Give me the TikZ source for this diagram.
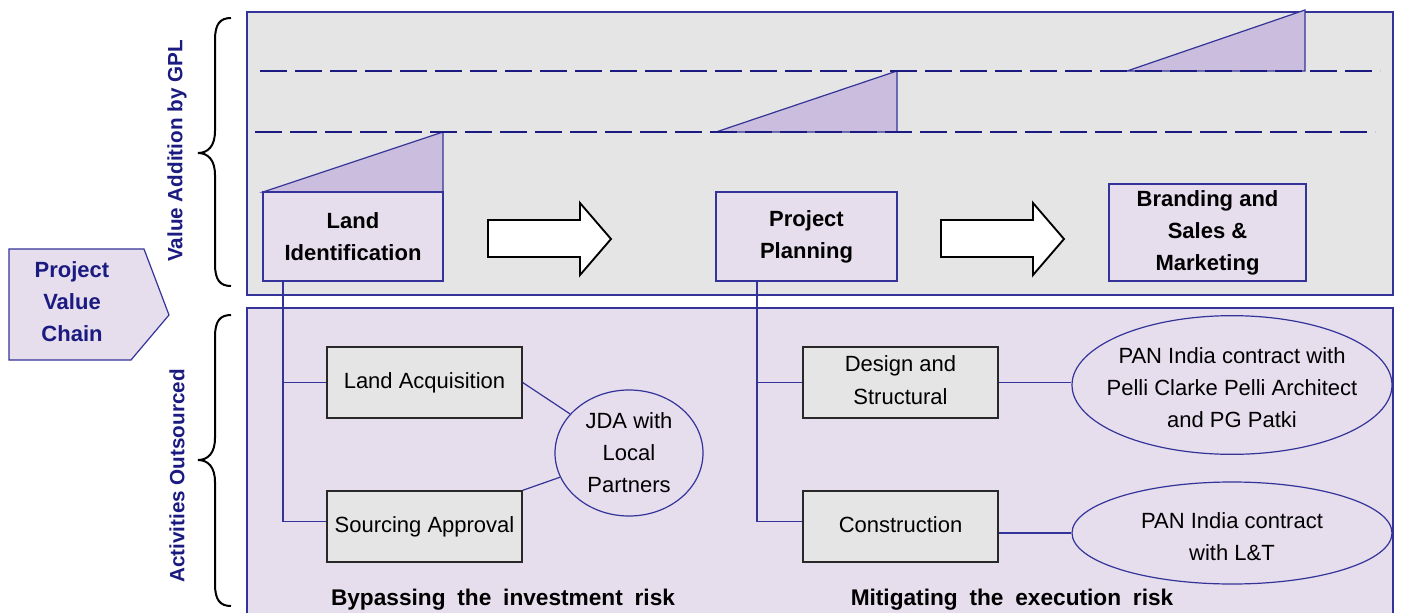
\documentclass[tikz,border=0pt]{standalone}
\usepackage{fontspec}
\setmainfont{Liberation Sans}
\usetikzlibrary{shapes.geometric}
\definecolor{panelgrey}{RGB}{229,229,229}
\definecolor{lav}{RGB}{230,221,237}
\definecolor{wedge}{RGB}{203,189,221}
\definecolor{edge}{RGB}{51,51,153}
\definecolor{navy}{RGB}{26,26,128}
\definecolor{boxline}{RGB}{40,40,40}
\newcommand\capspacing{\spaceskip=0.52em plus 0pt minus 0pt\relax}

\begin{document}
\begin{tikzpicture}[x=0.75pt,y=-0.75pt,
  txt/.style={font=\fontsize{16.5}{24}\selectfont, align=center, inner sep=0pt},
  boldtxt/.style={txt, font=\fontsize{16.5}{24}\selectfont\bfseries},
  captiontxt/.style={inner sep=0pt, font=\fontsize{17}{24}\selectfont\bfseries},
  panel/.style={draw=edge, line width=1pt, inner sep=0pt},
  stagebox/.style={boldtxt, draw=edge, fill=lav, line width=1pt},
  taskbox/.style={txt, draw=boxline, fill=panelgrey, line width=1pt,
    minimum width=146.25pt, minimum height=53.25pt},
  partner/.style={ellipse, draw=edge, fill=lav, line width=0.9pt, inner sep=0pt},
  link/.style={draw=edge, line width=0.9pt},
  wedgeshape/.style={draw=edge, fill=wedge, line width=0.9pt},
  dashline/.style={draw=navy, line width=1.5pt, dash pattern=on 20.25pt off 6pt},
  blockarrow/.style={draw=black, fill=white, line width=1.4pt, line join=miter},
  bracket/.style={draw=black, line width=1.5pt},
  sidelabel/.style={font=\fontsize{15.5}{20}\selectfont\bfseries, text=navy, inner sep=0pt, rotate=90},
]
\useasboundingbox (0,0) rectangle (1401,613);

% background bands
\node[panel, fill=panelgrey, minimum width=859.5pt, minimum height=212.25pt] (valueband) at (820,153.5) {};
\node[panel, fill=lav, minimum width=859.5pt, minimum height=234pt] (outband) at (820,464) {};

% value-addition wedges
\draw[wedgeshape] (263,192) -- (443,192) -- (443,132) -- cycle;
\draw[wedgeshape] (716,132) -- (897,132) -- (897,71) -- cycle;
\draw[wedgeshape] (1127,71) -- (1305,71) -- (1305,10) -- cycle;

% value levels
\draw[dashline] (260,71) -- (1380,71);
\draw[dashline] (255,132) -- (1375,132);

% stages of the value chain
\node[stagebox, minimum width=135pt, minimum height=66.75pt] (li) at (353,236.5) {Land\\Identification};
\node[stagebox, minimum width=135.75pt, minimum height=66.75pt] (pp) at (806.5,236.5) {Project\\Planning};
\node[stagebox, minimum width=147.75pt, minimum height=72.75pt] (bsm) at (1207.5,232.5) {Branding and\\Sales \&\\Marketing};

% block arrows between stages
\draw[blockarrow] (488,220) -- (580,220) -- (580,203) -- (611,239) -- (580,275) -- (580,257) -- (488,257) -- cycle;
\draw[blockarrow] (941,220) -- (1033,220) -- (1033,203) -- (1064,239) -- (1033,275) -- (1033,257) -- (941,257) -- cycle;

% project value chain tag
\draw[draw=edge, fill=lav, line width=0.9pt] (9,249) -- (144,249) -- (169,315) -- (131,360) -- (9,360) -- cycle;
\node[boldtxt, text=navy] (pvc) at (72,302) {Project\\Value\\Chain};

% side labels with braces
\node[sidelabel] (vlab) at (177,151) {Value Addition by GPL};
\node[sidelabel] (alab) at (177,476) {Activities Outsourced};
\draw[bracket] (231,18) .. controls (220,18) and (215,24) .. (215,40) -- (215,131)
  .. controls (215,146) and (208,153) .. (198,153)
  .. controls (208,153) and (215,160) .. (215,175) -- (215,264)
  .. controls (215,280) and (220,286) .. (231,286);
\draw[bracket] (231,315) .. controls (220,315) and (215,321) .. (215,337) -- (215,438)
  .. controls (215,453) and (208,460) .. (198,460)
  .. controls (208,460) and (215,467) .. (215,482) -- (215,584)
  .. controls (215,600) and (220,606) .. (231,606);

% outsourced activities
\node[taskbox] (la) at (424.5,382.5) {Land Acquisition};
\node[taskbox] (sa) at (424.5,526.5) {\raisebox{3pt}{Sourcing Approval}};
\node[taskbox] (ds) at (900.5,382.5) {\raisebox{3.5pt}{\shortstack{Design and\\[6pt]Structural}}};
\node[taskbox] (cn) at (900.5,526.5) {\raisebox{3pt}{Construction}};

\node[partner, minimum width=111pt, minimum height=94.5pt,
  label={[txt]center:{JDA with\\Local\\Partners}}] (jda) at (629,453) {};
\node[partner, minimum width=240pt, minimum height=104pt,
  label={[txt, yshift=-2.25pt]center:{PAN India contract with\\Pelli Clarke Pelli Architect\\and PG Patki}}] (pcp) at (1232,385) {};
\node[partner, minimum width=240pt, minimum height=76.5pt,
  label={[txt, yshift=-3pt]center:{PAN India contract\\with L\&T}}] (lt) at (1232,533) {};

% connectors
\coordinate (lspine) at (283,281);
\coordinate (pspine) at (757,281);
\draw[link] (lspine) |- (la.west);
\draw[link] (lspine) |- ([yshift=4pt]sa.west);
\draw[link] (pspine) |- (ds.west);
\draw[link] (pspine) |- ([yshift=4pt]cn.west);
\draw[link] (la.east) -- (jda);
\draw[link] (sa.north east) -- (jda);
\draw[link] (ds.east) -- (ds.east -| pcp.west);
\draw[link] (lt.west -| cn.east) -- (lt.west);

% captions
\node[captiontxt] (cap1) at (503,600) {\capspacing Bypassing the investment risk};
\node[captiontxt] (cap2) at (1012,600) {\capspacing Mitigating the execution risk};
\end{tikzpicture}
\end{document}
